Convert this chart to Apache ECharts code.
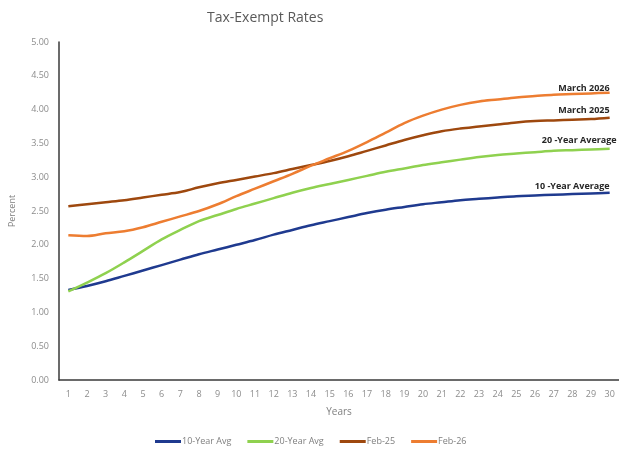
<!DOCTYPE html>
<html>
<head>
<meta charset="utf-8">
<script src="https://cdn.jsdelivr.net/npm/echarts@6/dist/echarts.min.js"></script>
<style>
  html, body { margin: 0; padding: 0; background: #fff; }
  #chart { width: 619px; height: 453px; }
</style>
</head>
<body>
<div id="chart"></div>
<script>
// Maturity in years
const years = ['1','2','3','4','5','6','7','8','9','10','11','12','13','14','15',
               '16','17','18','19','20','21','22','23','24','25','26','27','28','29','30'];

// Yields in percent
const avg10 = [1.33, 1.39, 1.46, 1.54, 1.62, 1.70, 1.78, 1.86, 1.93, 2.00,
               2.07, 2.15, 2.22, 2.29, 2.35, 2.41, 2.47, 2.52, 2.56, 2.60,
               2.63, 2.66, 2.68, 2.70, 2.72, 2.73, 2.74, 2.75, 2.76, 2.77];
const avg20 = [1.31, 1.44, 1.58, 1.74, 1.91, 2.08, 2.22, 2.35, 2.44, 2.53,
               2.61, 2.69, 2.77, 2.84, 2.90, 2.96, 3.02, 3.08, 3.13, 3.18,
               3.22, 3.26, 3.30, 3.33, 3.35, 3.37, 3.39, 3.40, 3.41, 3.42];
const feb25 = [2.57, 2.60, 2.63, 2.66, 2.70, 2.74, 2.78, 2.85, 2.91, 2.96,
               3.01, 3.06, 3.12, 3.18, 3.24, 3.31, 3.39, 3.47, 3.55, 3.62,
               3.68, 3.72, 3.75, 3.78, 3.81, 3.83, 3.84, 3.85, 3.86, 3.88];
const feb26 = [2.14, 2.13, 2.17, 2.20, 2.26, 2.34, 2.42, 2.50, 2.60, 2.72,
               2.83, 2.94, 3.05, 3.17, 3.28, 3.39, 3.52, 3.66, 3.80, 3.91,
               4.00, 4.07, 4.12, 4.15, 4.18, 4.20, 4.22, 4.23, 4.24, 4.25];

const yTicks = { min: 0, max: 5, interval: 0.5 };

const seriesNames = ['10-Year Avg', '20-Year Avg', 'Feb-25', 'Feb-26'];
const endNames = ['10 -Year Average', '20 -Year Average', 'March 2025', 'March 2026'];
const colors = ['#1f3a8f', '#8fd14f', '#9e480e', '#ed7d31'];
const values = [avg10, avg20, feb25, feb26];
// vertical lift of each end label above its line
const endLift = [-2, -4, -3, 0];

const FONT = '"Open Sans", "Liberation Sans", sans-serif';

const chart = echarts.init(document.getElementById('chart'), null, { renderer: 'canvas' });

chart.setOption({
  backgroundColor: '#ffffff',
  animation: false,
  textStyle: { fontFamily: FONT },
  title: {
    text: 'Tax-Exempt Rates',
    left: 202,
    top: 6,
    textStyle: { fontFamily: FONT, fontSize: 14, fontWeight: 'normal', color: '#595959' }
  },
  legend: {
    data: seriesNames,
    bottom: 2,
    left: 150,
    icon: 'rect',
    itemWidth: 26,
    itemHeight: 3,
    itemGap: 16,
    textStyle: { fontFamily: FONT, fontSize: 9, color: '#7f7f7f', padding: [0, 0, 0, -4] }
  },
  grid: { left: 59, top: 42, width: 562, bottom: 73 },
  xAxis: {
    type: 'category',
    data: years,
    boundaryGap: true,
    name: 'Years',
    nameLocation: 'middle',
    nameGap: 27,
    nameTextStyle: { fontFamily: FONT, fontSize: 10, color: '#7f7f7f' },
    axisLine: { lineStyle: { color: '#3a3a3a', width: 1.5 } },
    axisTick: { show: false },
    axisLabel: { fontFamily: FONT, fontSize: 9, color: '#8c8c8c', margin: 10, interval: 0 },
    splitLine: { show: false }
  },
  yAxis: {
    type: 'value',
    min: yTicks.min,
    max: yTicks.max,
    interval: yTicks.interval,
    name: 'Percent',
    nameLocation: 'middle',
    nameGap: 42,
    nameTextStyle: { fontFamily: FONT, fontSize: 9, color: '#7f7f7f' },
    axisLine: { show: true, lineStyle: { color: '#3a3a3a', width: 1.5 } },
    axisTick: { show: false },
    axisLabel: {
      fontFamily: FONT, fontSize: 9, color: '#8c8c8c', margin: 10,
      formatter: v => v.toFixed(2)
    },
    splitLine: { show: false }
  },
  series: values.map((vals, k) => ({
    name: seriesNames[k],
    type: 'line',
    data: vals,
    smooth: 0.35,
    symbol: 'none',
    lineStyle: { color: colors[k], width: 2.5 },
    itemStyle: { color: colors[k] },
    endLabel: {
      show: true,
      formatter: () => endNames[k],
      align: 'right',
      verticalAlign: 'bottom',
      distance: 0,
      offset: [k === 1 ? 7 : 0, endLift[k]],
      fontFamily: FONT,
      fontSize: 9,
      fontWeight: 'bold',
      color: '#262626'
    }
  }))
});
</script>
</body>
</html>
